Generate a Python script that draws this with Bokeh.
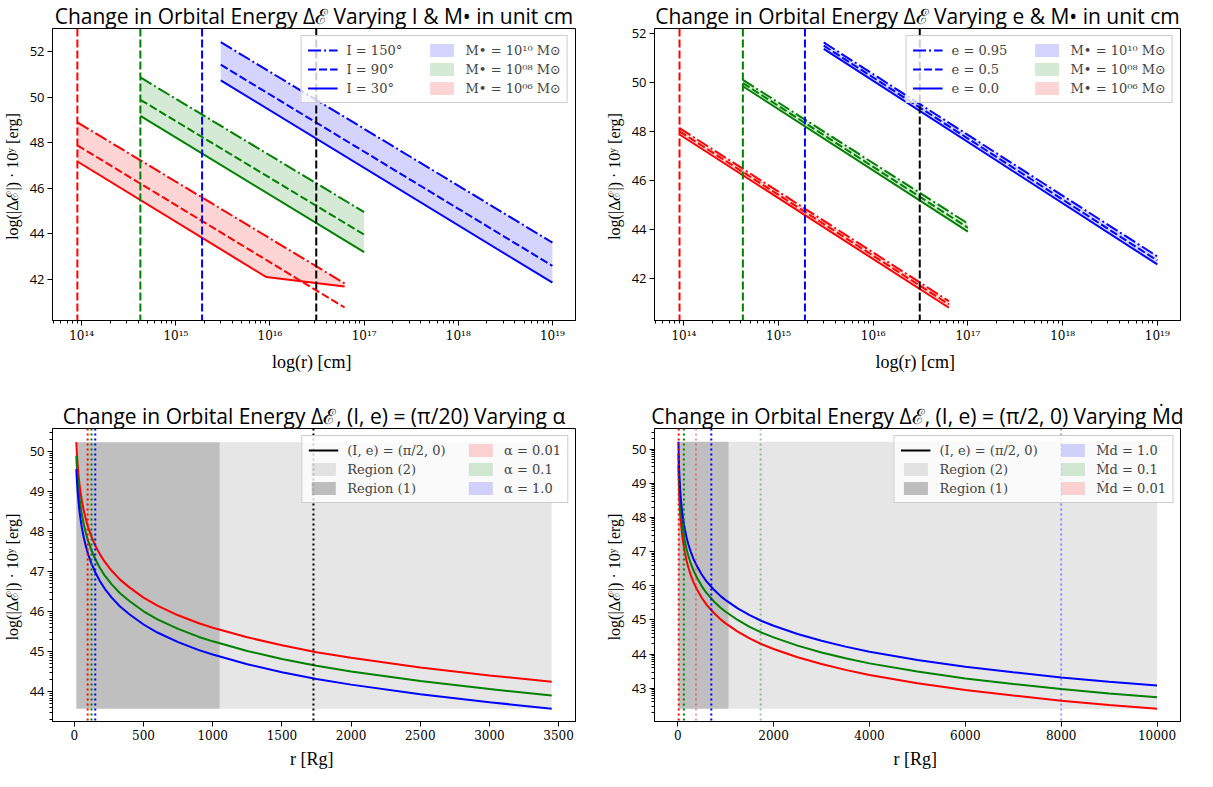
import math
from bokeh.plotting import figure
from bokeh.models import Range1d, Span, Legend, LegendItem, FixedTicker, CustomJSTickFormatter
from bokeh.layouts import column, row
from bokeh.embed import file_html
from bokeh.resources import INLINE

# ================= DATA =================
# vertical reference radii in the two top panels [cm]
vline_r_cm = [9.0e13, 4.2e14, 1.9e15, 3.1e16]
vline_colors = ["red", "green", "blue", "black"]

# Panel (a): varying inclination I, three BH masses
a_red_r = [9.0e13, 6.2e16]
a_red_r_I30 = [9.0e13, 9.1e15, 6.2e16]
a_red_I150 = [48.90, 41.83]
a_red_I90 = [47.89, 40.77]
a_red_I30 = [47.18, 42.11, 41.69]
a_green_r = [4.2e14, 1.0e17]
a_green_I150 = [50.87, 44.96]
a_green_I90 = [49.89, 43.97]
a_green_I30 = [49.18, 43.20]
a_blue_r = [3.0e15, 1.0e19]
a_blue_I150 = [52.42, 43.62]
a_blue_I90 = [51.43, 42.60]
a_blue_I30 = [50.74, 41.86]

# Panel (b): varying eccentricity e
b_red_r = [9.0e13, 6.3e16]
b_red_e095 = [48.13, 41.06]
b_red_e05 = [48.00, 40.93]
b_red_e0 = [47.87, 40.79]
b_green_r = [4.2e14, 1.0e17]
b_green_e095 = [50.10, 44.23]
b_green_e05 = [49.97, 44.06]
b_green_e0 = [49.84, 43.90]
b_blue_r = [3.0e15, 1.0e19]
b_blue_e095 = [51.63, 42.89]
b_blue_e05 = [51.50, 42.72]
b_blue_e0 = [51.37, 42.56]

# Panel (c): varying alpha, r in R_g
c_r = [14, 17, 20, 25, 30, 37, 45, 55, 70, 85, 100, 125, 150, 185, 220, 270, 330, 400,
       500, 600, 750, 900, 1000, 1250, 1500, 1750, 2000, 2500, 3000, 3450]
c_alpha001 = [50.23, 50.02, 49.85, 49.61, 49.41, 49.18, 48.97, 48.75, 48.49, 48.28, 48.10, 47.86,
              47.66, 47.43, 47.24, 47.02, 46.80, 46.60, 46.35, 46.15, 45.91, 45.71, 45.60, 45.36,
              45.16, 44.99, 44.85, 44.61, 44.41, 44.25]
c_alpha01 = [49.89, 49.68, 49.51, 49.27, 49.07, 48.84, 48.63, 48.41, 48.15, 47.94, 47.76, 47.52,
             47.32, 47.09, 46.90, 46.68, 46.46, 46.26, 46.01, 45.81, 45.57, 45.37, 45.26, 45.02,
             44.82, 44.65, 44.51, 44.27, 44.07, 43.91]
c_alpha1 = [49.56, 49.35, 49.18, 48.94, 48.74, 48.51, 48.30, 48.08, 47.82, 47.61, 47.43, 47.19,
            46.99, 46.76, 46.57, 46.35, 46.13, 45.93, 45.68, 45.48, 45.24, 45.04, 44.93, 44.69,
            44.49, 44.32, 44.18, 43.94, 43.74, 43.58]
c_region1 = [14, 1050]
c_region2 = [1050, 3450]
c_region_y = [43.58, 50.23]
c_vlines = [96, 124, 151, 1728]
c_vline_colors = ["red", "green", "blue", "black"]

# Panel (d): varying accretion rate
d_r = [14, 17, 20, 25, 30, 37, 45, 55, 70, 85, 100, 125, 150, 185, 220, 270, 330, 400, 500,
       600, 750, 900, 1000, 1250, 1500, 1750, 2000, 2500, 3000, 3500, 4000, 5000, 6000, 7000,
       8000, 9000, 10000]
d_md1 = [50.21, 50.00, 49.83, 49.59, 49.39, 49.16, 48.95, 48.73, 48.47, 48.26, 48.08, 47.84,
         47.64, 47.41, 47.22, 47.00, 46.78, 46.58, 46.33, 46.13, 45.89, 45.69, 45.58, 45.34,
         45.14, 44.97, 44.83, 44.59, 44.39, 44.22, 44.07, 43.83, 43.63, 43.47, 43.32, 43.19, 43.08]
d_md01 = [49.87, 49.66, 49.49, 49.25, 49.05, 48.82, 48.61, 48.39, 48.13, 47.92, 47.74, 47.50,
          47.30, 47.07, 46.88, 46.66, 46.44, 46.24, 45.99, 45.79, 45.55, 45.35, 45.24, 45.00,
          44.80, 44.63, 44.49, 44.25, 44.05, 43.88, 43.73, 43.49, 43.29, 43.13, 42.98, 42.85, 42.74]
d_md001 = [49.53, 49.32, 49.15, 48.91, 48.71, 48.48, 48.27, 48.05, 47.79, 47.58, 47.40, 47.16,
           46.96, 46.73, 46.54, 46.32, 46.10, 45.90, 45.65, 45.45, 45.21, 45.01, 44.90, 44.66,
           44.46, 44.29, 44.15, 43.91, 43.71, 43.54, 43.39, 43.15, 42.95, 42.79, 42.64, 42.51, 42.40]
d_region1 = [14, 1060]
d_region2 = [1060, 10000]
d_region_y = [42.40, 50.21]
d_vlines_strong = [20, 128, 700]
d_vlines_light = [380, 1730, 8000]
d_vline_colors = ["red", "green", "blue"]

# labels
titles = [
    "Change in Orbital Energy \u0394\u2130 Varying I & M\u2022 in unit cm",
    "Change in Orbital Energy \u0394\u2130 Varying e & M\u2022 in unit cm",
    "Change in Orbital Energy \u0394\u2130, (I, e) = (\u03c0/20) Varying \u03b1",
    "Change in Orbital Energy \u0394\u2130, (I, e) = (\u03c0/2, 0) Varying \u1e40d",
]
I_labels = ["I = 150\u00b0", "I = 90\u00b0", "I = 30\u00b0"]
e_labels = ["e = 0.95", "e = 0.5", "e = 0.0"]
M_labels = ["M\u2022 = 10\u00b9\u2070 M\u2299", "M\u2022 = 10\u2070\u2078 M\u2299", "M\u2022 = 10\u2070\u2076 M\u2299"]
ref_label = "(I, e) = (\u03c0/2, 0)"
region_labels = ["Region (2)", "Region (1)"]
alpha_labels = ["\u03b1 = 0.01", "\u03b1 = 0.1", "\u03b1 = 1.0"]
md_labels = ["\u1e40d = 1.0", "\u1e40d = 0.1", "\u1e40d = 0.01"]
ylabel = "log(|\u0394\u2130|) \u00b7 10\u02b8  [erg]"

# ================= STYLE =================
DASH = "8 3"
DASHDOT = "13 3 2 3"
DOT = "2 3"
FILL_A = 0.17
SERIF = "Liberation Serif"
LEGEND_FONT = "DejaVu Serif"
SANS = "Open Sans"
NAN = float("nan")
PAD = "\u2007\u2007"

sup_fmt = CustomJSTickFormatter(code="""
const s = {'0':'\u2070','1':'\u00b9','2':'\u00b2','3':'\u00b3','4':'\u2074','5':'\u2075','6':'\u2076','7':'\u2077','8':'\u2078','9':'\u2079','-':'\u207b'};
const e = Math.round(Math.log10(tick));
return '10' + String(e).split('').map(c => s[c]).join('');
""")


def make_fig(w, h, xr, yr, xlog, title, mb):
    p = figure(width=w, height=h, x_range=Range1d(*xr), y_range=Range1d(*yr),
               x_axis_type="log" if xlog else "linear", output_backend="svg",
               toolbar_location=None, title=title,
               min_border_left=mb[0], min_border_right=mb[1],
               min_border_top=mb[2], min_border_bottom=mb[3])
    p.title.text_font = SANS
    p.title.text_font_size = "21px"
    p.title.text_font_style = "normal"
    p.title.align = "center"
    p.title.standoff = -2
    p.title.text_line_height = 0.85
    p.title.text_color = "black"
    p.grid.visible = False
    p.outline_line_color = "black"
    p.outline_line_alpha = 1
    p.outline_line_width = 1
    p.background_fill_color = "white"
    for ax in (p.xaxis[0], p.yaxis[0]):
        ax.axis_line_color = "black"
        ax.major_tick_line_color = "black"
        ax.minor_tick_line_color = "black"
        ax.major_tick_in = 0
        ax.major_tick_out = 5
        ax.minor_tick_in = 0
        ax.minor_tick_out = 3
        ax.major_label_standoff = 3
        ax.axis_label_standoff = 6
        ax.axis_label_text_font_style = "normal"
        ax.axis_label_text_color = "black"
        ax.major_label_text_color = "black"
    p.yaxis.axis_label = ylabel
    p.yaxis.axis_label_text_font = SERIF
    p.yaxis.axis_label_text_font_size = "16px"
    p.yaxis.major_label_text_font = SANS
    p.yaxis.major_label_text_font_size = "13px"
    p.xaxis.axis_label_text_font = SERIF
    p.xaxis.axis_label_text_font_size = "18px"
    p.xaxis.major_label_text_font = LEGEND_FONT
    p.xaxis.major_label_text_font_size = "12px"
    return p


def add_legend(p, items, lw):
    lg = Legend(items=items, ncols=2, location="top_right", margin=7, padding=6,
                spacing=3, glyph_width=30, glyph_height=16, label_height=16,
                label_width=lw,
                label_standoff=9, label_text_font=LEGEND_FONT, label_text_font_size="13px",
                border_line_color="#cccccc", border_line_alpha=1.0,
                background_fill_alpha=0.8)
    p.add_layout(lg)


top_major = [10.0 ** n for n in range(14, 20)]
top_minor = [k * 10.0 ** n for n in range(13, 20) for k in range(2, 10)]
top_xr = (10 ** 13.69, 10 ** 19.245)


def top_panel(w, title, yr, mb, groups, labels):
    p = make_fig(w, 387, top_xr, yr, True, title, mb)
    p.xaxis.ticker = FixedTicker(ticks=top_major, minor_ticks=top_minor)
    p.xaxis.formatter = sup_fmt
    p.yaxis.ticker = FixedTicker(ticks=[42, 44, 46, 48, 50, 52], minor_ticks=[])
    p.xaxis.axis_label = "log(r)  [cm]"
    for xv, c in zip(vline_r_cm, vline_colors):
        p.add_layout(Span(location=xv, dimension="height", line_color=c,
                          line_width=2, line_dash=DASH))
    line_items = {}
    fill_items = {}
    for color, r_top, y_top, r_mid, y_mid, r_bot, y_bot in groups:
        f = p.patch(x=list(r_top) + list(r_bot)[::-1], y=list(y_top) + list(y_bot)[::-1],
                    fill_color=color, fill_alpha=FILL_A, line_alpha=0)
        l1 = p.line(r_top, y_top, line_color=color, line_width=2, line_dash=DASHDOT)
        l2 = p.line(r_mid, y_mid, line_color=color, line_width=2, line_dash=DASH)
        l3 = p.line(r_bot, y_bot, line_color=color, line_width=2)
        line_items[color] = (l1, l2, l3)
        fill_items[color] = f
    b = line_items["blue"]
    items = [LegendItem(label=labels[0], renderers=[b[0]]),
             LegendItem(label=labels[1], renderers=[b[1]]),
             LegendItem(label=labels[2], renderers=[b[2]]),
             LegendItem(label=M_labels[0], renderers=[fill_items["blue"]]),
             LegendItem(label=M_labels[1], renderers=[fill_items["green"]]),
             LegendItem(label=M_labels[2], renderers=[fill_items["red"]])]
    add_legend(p, items, 77)
    return p


pa = top_panel(592, titles[0], (40.2, 53.02), (49, 17, 17, 67), [
    ("red", a_red_r, a_red_I150, a_red_r, a_red_I90, a_red_r_I30, a_red_I30),
    ("green", a_green_r, a_green_I150, a_green_r, a_green_I90, a_green_r, a_green_I30),
    ("blue", a_blue_r, a_blue_I150, a_blue_r, a_blue_I90, a_blue_r, a_blue_I30),
], I_labels)

pb = top_panel(605, titles[1], (40.27, 52.2), (62, 17, 17, 67), [
    ("red", b_red_r, b_red_e095, b_red_r, b_red_e05, b_red_r, b_red_e0),
    ("green", b_green_r, b_green_e095, b_green_r, b_green_e05, b_green_r, b_green_e0),
    ("blue", b_blue_r, b_blue_e095, b_blue_r, b_blue_e05, b_blue_r, b_blue_e0),
], e_labels)


def bottom_panel(w, title, xr, yr, mb, xticks, ymajor, r, curves, reg1, reg2, regy):
    p = make_fig(w, 384, xr, yr, False, title, mb)
    p.xaxis.ticker = FixedTicker(ticks=xticks, minor_ticks=[])
    ymin = [n + math.log10(k) for n in range(ymajor[0] - 1, ymajor[-1] + 1) for k in range(2, 10)]
    p.yaxis.ticker = FixedTicker(ticks=ymajor, minor_ticks=ymin)
    p.xaxis.axis_label = "r  [Rg]"
    g2 = p.varea(x=reg2, y1=[regy[0]] * 2, y2=[regy[1]] * 2, fill_color="gray", fill_alpha=0.2)
    g1 = p.varea(x=reg1, y1=[regy[0]] * 2, y2=[regy[1]] * 2, fill_color="gray", fill_alpha=0.5)
    for color, ys in curves:
        p.line(r, ys, line_color=color, line_width=2)
    black = p.line(x=[NAN, NAN], y=[NAN, NAN], line_color="black", line_width=2)
    return p, black, g1, g2


def swatch(p, c):
    return p.varea(x=[NAN, NAN], y1=[NAN, NAN], y2=[NAN, NAN], fill_color=c, fill_alpha=FILL_A)


pc, c_black, c_g1, c_g2 = bottom_panel(
    592, titles[2], (-158, 3622), (43.26, 50.57), (49, 17, 38, 45),
    list(range(0, 3501, 500)), list(range(44, 51)), c_r,
    [("red", c_alpha001), ("green", c_alpha01), ("blue", c_alpha1)],
    c_region1, c_region2, c_region_y)
for xv, c in zip(c_vlines, c_vline_colors):
    pc.add_layout(Span(location=xv, dimension="height", line_color=c, line_width=2, line_dash=DOT))
c_sw = [swatch(pc, c) for c in ["red", "green", "blue"]]
add_legend(pc, [LegendItem(label=ref_label + PAD, renderers=[c_black]),
                LegendItem(label=region_labels[0], renderers=[c_g2]),
                LegendItem(label=region_labels[1], renderers=[c_g1]),
                LegendItem(label=alpha_labels[0], renderers=[c_sw[0]]),
                LegendItem(label=alpha_labels[1], renderers=[c_sw[1]]),
                LegendItem(label=alpha_labels[2], renderers=[c_sw[2]])], 20)

pd_, d_black, d_g1, d_g2 = bottom_panel(
    605, titles[3], (-485, 10490), (42.03, 50.6), (62, 17, 41, 46),
    list(range(0, 10001, 2000)), list(range(43, 51)), d_r,
    [("red", d_md001), ("green", d_md01), ("blue", d_md1)],
    d_region1, d_region2, d_region_y)
for xv, c in zip(d_vlines_strong, d_vline_colors):
    pd_.add_layout(Span(location=xv, dimension="height", line_color=c, line_width=2, line_dash=DOT))
for xv, c in zip(d_vlines_light, d_vline_colors):
    pd_.add_layout(Span(location=xv, dimension="height", line_color=c, line_alpha=0.4,
                        line_width=2, line_dash=DOT))
d_sw = [swatch(pd_, c) for c in ["blue", "green", "red"]]
add_legend(pd_, [LegendItem(label=ref_label + PAD, renderers=[d_black]),
                 LegendItem(label=region_labels[0], renderers=[d_g2]),
                 LegendItem(label=region_labels[1], renderers=[d_g1]),
                 LegendItem(label=md_labels[0], renderers=[d_sw[0]]),
                 LegendItem(label=md_labels[1], renderers=[d_sw[1]]),
                 LegendItem(label=md_labels[2], renderers=[d_sw[2]])], 20)

layout = column(row(pa, pb), row(pc, pd_))
open("out.html", "w").write(file_html(layout, INLINE))
